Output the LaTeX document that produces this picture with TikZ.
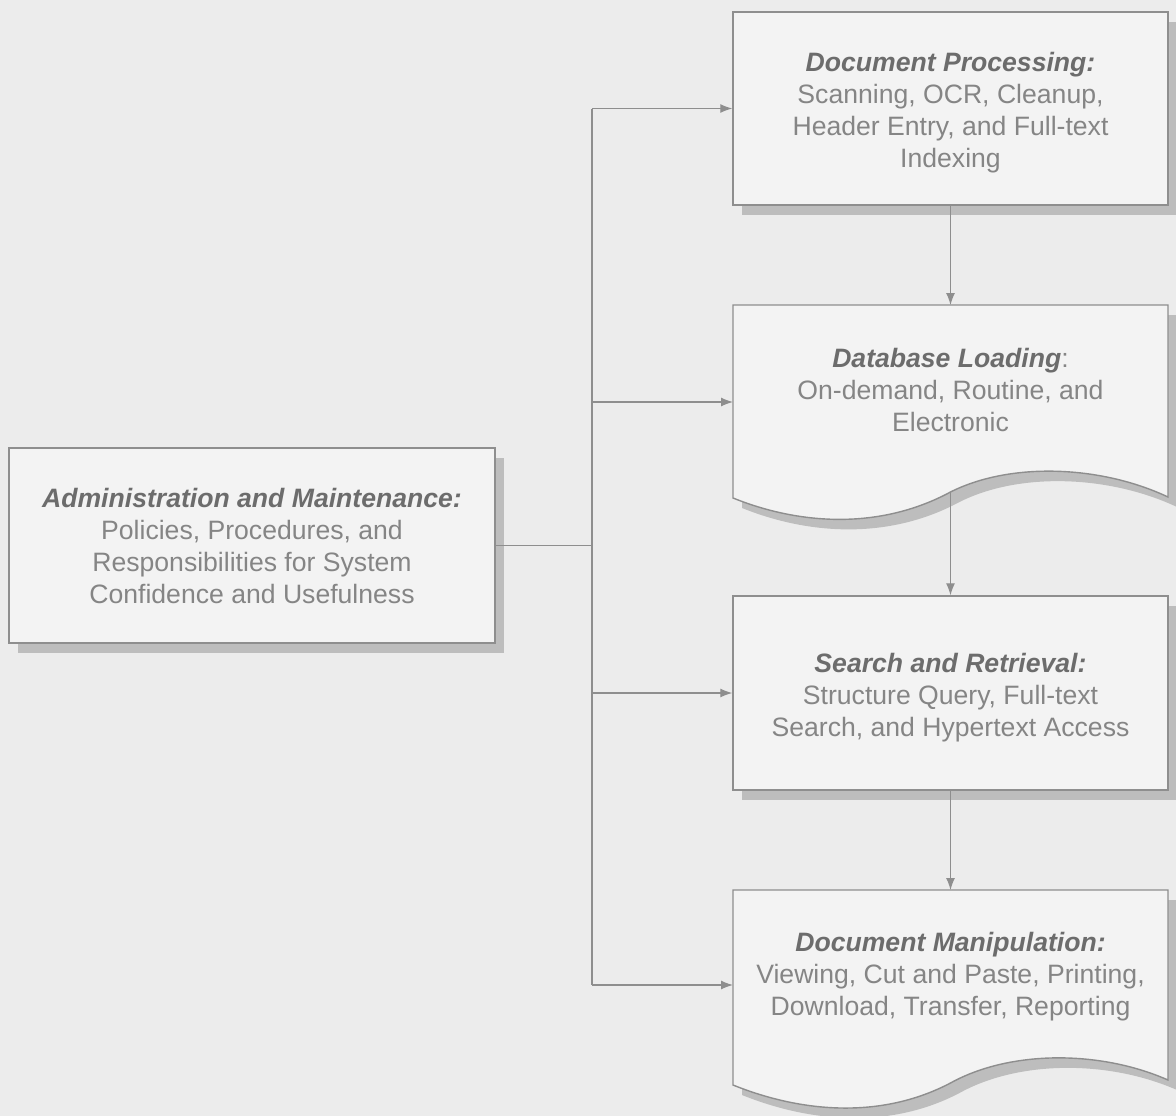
\documentclass[tikz,border=0pt]{standalone}
\usepackage{fontspec}
\setmainfont{Liberation Sans}
\usetikzlibrary{arrows.meta,shadows}
\definecolor{bgc}{HTML}{ECECEC}
\definecolor{boxfill}{HTML}{F3F3F3}
\definecolor{edgec}{HTML}{8E8E8E}
\definecolor{txtc}{HTML}{858585}
\definecolor{titc}{HTML}{6C6C6C}
\definecolor{shadc}{HTML}{BDBDBD}
\tikzset{
  boxstyle/.style={draw=edgec, line width=1.4pt, fill=boxfill,
    drop shadow={shadow xshift=9pt, shadow yshift=-10pt, fill=shadc, opacity=1}},
  recbox/.style={boxstyle, rectangle, inner sep=0pt, align=center, text=txtc,
    font=\fontsize{26.6}{32}\selectfont},
  txtnode/.style={inner sep=0pt, align=center, text=txtc,
    font=\fontsize{26.6}{32}\selectfont},
  conn/.style={draw=edgec, line width=1.2pt},
  arr/.style={conn, -{Latex[length=12pt,width=9pt]}},
}
\newcommand{\ttl}[1]{{\color{titc}\bfseries\itshape #1}}
\newcommand{\dn}{\rule{0pt}{28pt}}
\begin{document}
\begin{tikzpicture}[x=1pt,y=-1pt]
\useasboundingbox (0,0) rectangle (1176,1116);
\fill[bgc] (0,0) rectangle (1176,1116);

% Admin box
\node[recbox, minimum width=486pt, minimum height=195pt] (adm) at (252,545.5)
  {\ttl{Administration and Maintenance:}\\Policies, Procedures, and\\Responsibilities for System\\Confidence and Usefulness};

% Document processing
\node[recbox, minimum width=435pt, minimum height=193pt] (dp) at (950.5,108.5)
  {\dn\ttl{Document Processing:}\\Scanning, OCR, Cleanup,\\Header Entry, and Full-text\\Indexing};

% Database loading (document shape)
\path[boxstyle] (733,305) -- (1168,305) -- (1168,497)
  .. controls (1100,465) and (1010,462) .. (950.5,492)
  .. controls (880,530) and (800,525) .. (733,498) -- cycle;
\node[txtnode] (dl) at (950.5,390)
  {\ttl{Database Loading}:\\On-demand, Routine, and\\Electronic};
\coordinate (dlN) at (950.5,305);
\coordinate (dlS) at (950.5,492);
\coordinate (dlW) at (733,402);

% Search and retrieval
\node[recbox, minimum width=435pt, minimum height=194pt] (sr) at (950.5,693)
  {\dn\ttl{Search and Retrieval:}\\Structure Query, Full-text\\Search, and Hypertext Access};

% Document manipulation (document shape)
\path[boxstyle] (733,890) -- (1168,890) -- (1168,1080)
  .. controls (1100,1050) and (1010,1050) .. (950.5,1083)
  .. controls (880,1120) and (800,1112) .. (733,1085) -- cycle;
\node[txtnode] (dm) at (950.5,977)
  {\ttl{Document Manipulation:}\\Viewing, Cut and Paste, Printing,\\Download, Transfer, Reporting};
\coordinate (dmN) at (950.5,890);
\coordinate (dmW) at (733,985);

% trunk
\coordinate (junc) at (592,545.5);
\coordinate (tTop) at (592,108.5);
\coordinate (tBot) at (592,985);
\draw[conn] (adm.east) -- (junc);
\draw[conn] (tTop) -- (tBot);
\draw[arr] (tTop) -- (dp.west);
\draw[arr] (tTop |- dlW) -- (dlW);
\draw[arr] (tTop |- sr.west) -- (sr.west);
\draw[arr] (tBot) -- (dmW);

% vertical flow
\draw[arr] (dp.south) -- (dlN);
\draw[arr] (dlS) -- (sr.north);
\draw[arr] (sr.south) -- (dmN);
\end{tikzpicture}
\end{document}
